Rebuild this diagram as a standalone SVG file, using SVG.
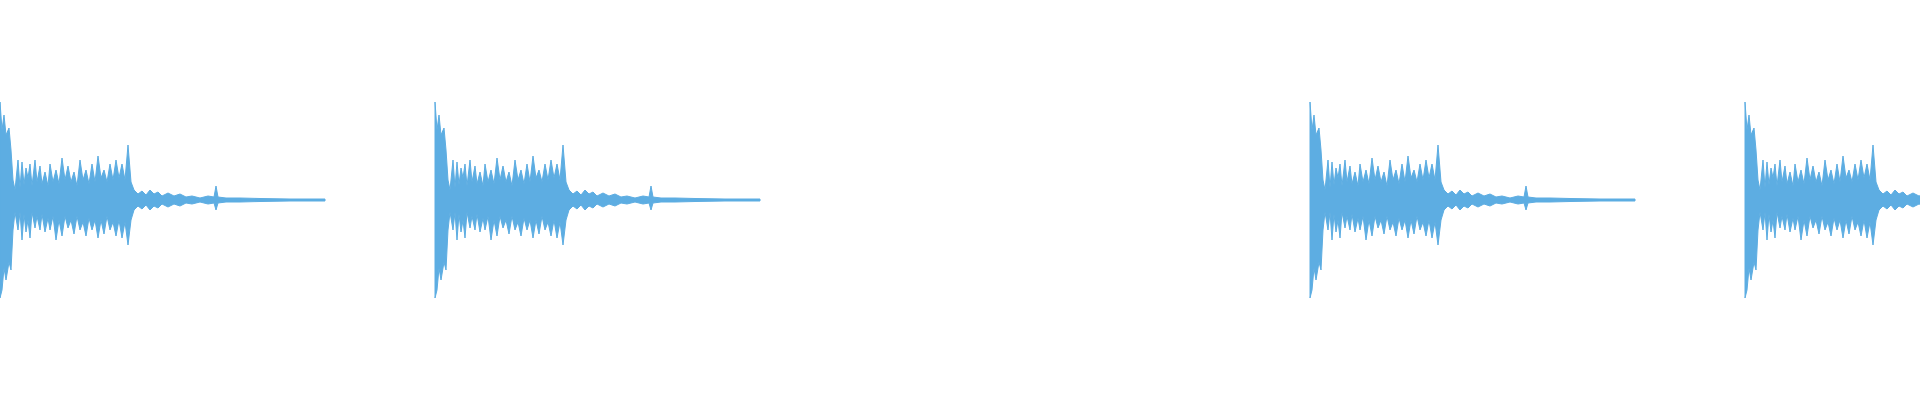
<svg xmlns="http://www.w3.org/2000/svg" width="1920" height="400" viewBox="0 0 1920 400">
<style>.w{fill:#5dade2;stroke:#5dade2;stroke-width:1;stroke-linejoin:miter}</style>
<defs>
<polygon id="burst" class="w" points="0,-98 2,-70 4,-85 6,-65 9,-72 11,-50 13,-20 15,-10 18,-40 20,-12 22,-38 24,-15 26,-32 28,-22 30,-36 32,-14 35,-40 37,-18 40,-34 42,-16 45,-28 48,-14 50,-36 53,-18 56,-30 59,-16 62,-42 65,-20 68,-34 71,-18 74,-28 77,-14 80,-40 83,-20 86,-30 89,-16 92,-36 95,-18 98,-44 101,-22 104,-30 107,-18 110,-36 113,-20 116,-40 119,-22 122,-36 125,-20 128,-55 131,-18 134,-10 138,-6 142,-9 146,-5 150,-10 154,-6 158,-8 162,-4 168,-7 174,-4 180,-6 186,-3 192,-4 200,-2 208,-4 214,-3 216,-14 218,-3 226,-2 240,-2 260,-1.5 290,-1 325,-1 325,1 290,1 260,1.5 240,2 226,2 218,3 216,10 214,3 208,4 200,2 192,4 186,3 180,6 174,4 168,7 162,4 158,8 154,6 150,10 146,5 142,9 138,6 134,10 131,20 128,45 125,22 122,38 119,20 116,36 113,22 110,30 107,16 104,34 101,20 98,38 95,20 92,30 89,18 86,36 83,22 80,30 77,16 74,34 71,20 68,28 65,16 62,36 59,20 56,40 53,16 50,30 48,18 45,32 42,14 40,30 37,16 35,28 32,12 30,38 28,20 26,32 24,14 22,40 20,12 18,30 15,12 13,30 11,70 9,62 6,80 4,68 2,90 0,98"/>
</defs>
<rect width="1920" height="400" fill="#ffffff"/>
<g id="wave">
<use href="#burst" x="0" y="200"/>
<use href="#burst" x="435" y="200"/>
<use href="#burst" x="1310" y="200"/>
<use href="#burst" x="1745" y="200"/>
</g>
</svg>
